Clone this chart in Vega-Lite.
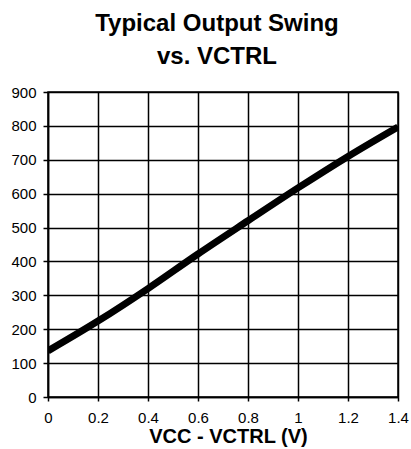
{
  "$schema": "https://vega.github.io/schema/vega-lite/v6.json",
  "width": 350,
  "height": 305,
  "autosize": "none",
  "padding": {"left": 48, "top": 92, "right": 13, "bottom": 52},
  "background": "white",
  "title": {
    "text": ["Typical Output Swing", "vs. VCTRL"],
    "font": "Liberation Sans",
    "fontSize": 24,
    "fontWeight": "bold",
    "color": "black",
    "lineHeight": 33,
    "anchor": "middle",
    "dx": -6,
    "offset": 16
  },
  "config": {
    "view": {"stroke": "black", "strokeWidth": 1.5},
    "axis": {
      "labelFont": "Liberation Sans",
      "labelFontSize": 15,
      "labelColor": "black",
      "titleFont": "Liberation Sans",
      "titleColor": "black",
      "gridColor": "black",
      "gridOpacity": 1,
      "gridWidth": 1.5,
      "domainColor": "black",
      "domainWidth": 1.5,
      "tickColor": "black",
      "tickWidth": 1.5
    }
  },
  "data": {
    "values": [
      {"x": 0, "y": 136},
      {"x": 0.2, "y": 224},
      {"x": 0.4, "y": 320},
      {"x": 0.6, "y": 422},
      {"x": 0.8, "y": 520},
      {"x": 1.0, "y": 617},
      {"x": 1.2, "y": 710},
      {"x": 1.4, "y": 797}
    ]
  },
  "mark": {"type": "line", "color": "black", "strokeWidth": 7, "interpolate": "monotone", "clip": true},
  "encoding": {
    "x": {
      "field": "x",
      "type": "quantitative",
      "scale": {"domain": [0, 1.4], "nice": false, "zero": false},
      "axis": {
        "values": [0, 0.2, 0.4, 0.6, 0.8, 1, 1.2, 1.4],
        "format": "~g",
        "title": "VCC - VCTRL (V)",
        "titleFontSize": 20,
        "titleFontWeight": "bold",
        "titleBaseline": "alphabetic",
        "titleY": 45,
        "titleX": 180,
        "tickSize": 4,
        "labelBaseline": "alphabetic",
        "labelPadding": 21,
        "labelFlush": false,
        "labelOverlap": false
      }
    },
    "y": {
      "field": "y",
      "type": "quantitative",
      "scale": {"domain": [0, 900], "nice": false},
      "axis": {
        "values": [0, 100, 200, 300, 400, 500, 600, 700, 800, 900],
        "title": null,
        "tickSize": 5,
        "labelPadding": 7,
        "labelFlush": false,
        "labelOverlap": false
      }
    }
  }
}
